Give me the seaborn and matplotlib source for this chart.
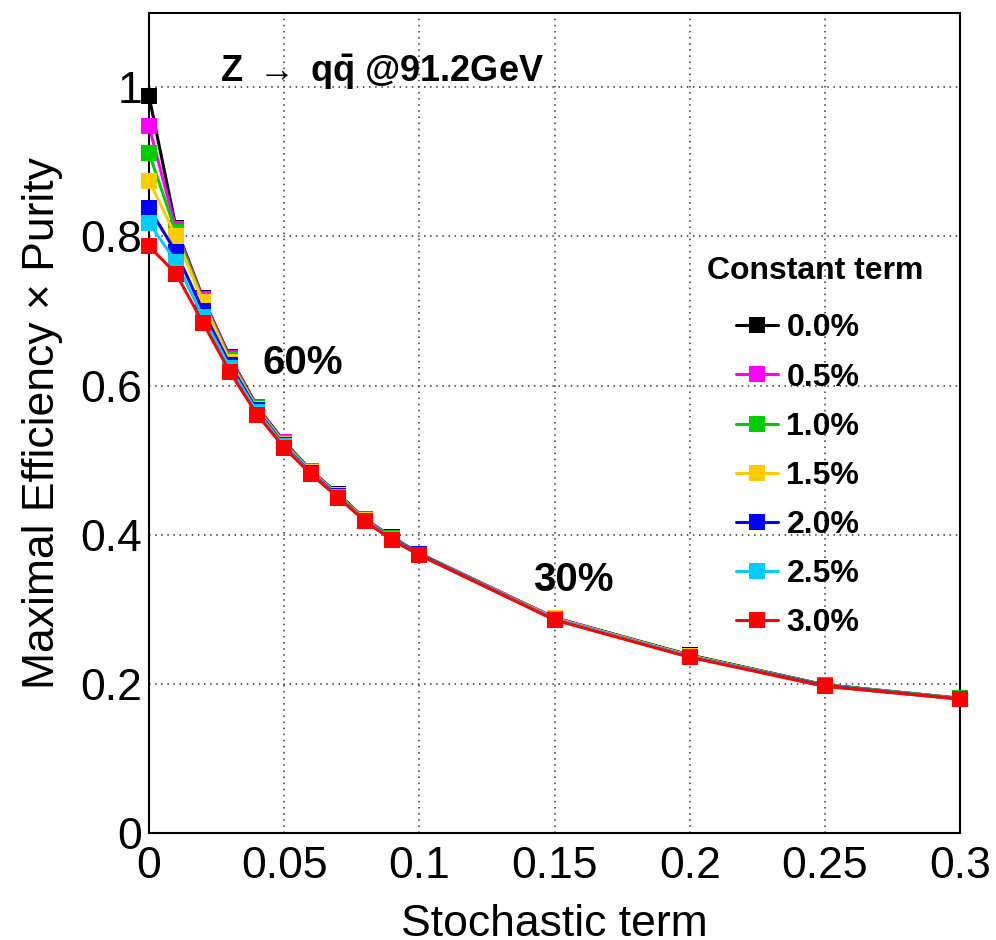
import matplotlib
matplotlib.use("Agg")
import matplotlib.pyplot as plt
from matplotlib.ticker import MultipleLocator
from matplotlib.lines import Line2D
import numpy as np
import pandas as pd
import seaborn as sns

# Stochastic term of the calorimeter resolution
stochastic = [0.0, 0.01, 0.02, 0.03, 0.04, 0.05, 0.06, 0.07, 0.08, 0.09, 0.10,
              0.15, 0.20, 0.25, 0.30]

# Maximal efficiency x purity for each constant term
eff_c00 = [0.988, 0.812, 0.717, 0.638, 0.572, 0.525, 0.486, 0.455, 0.421, 0.397, 0.375, 0.289, 0.239, 0.199, 0.181]
eff_c05 = [0.948, 0.810, 0.716, 0.637, 0.571, 0.524, 0.486, 0.454, 0.421, 0.396, 0.375, 0.289, 0.238, 0.199, 0.181]
eff_c10 = [0.912, 0.806, 0.714, 0.634, 0.570, 0.523, 0.485, 0.454, 0.420, 0.396, 0.375, 0.288, 0.238, 0.199, 0.181]
eff_c15 = [0.875, 0.800, 0.712, 0.632, 0.569, 0.522, 0.484, 0.453, 0.420, 0.395, 0.374, 0.288, 0.238, 0.198, 0.180]
eff_c20 = [0.838, 0.779, 0.700, 0.628, 0.567, 0.520, 0.483, 0.452, 0.419, 0.395, 0.374, 0.287, 0.237, 0.198, 0.180]
eff_c25 = [0.818, 0.766, 0.692, 0.624, 0.565, 0.519, 0.482, 0.451, 0.419, 0.394, 0.373, 0.287, 0.237, 0.197, 0.180]
eff_c30 = [0.787, 0.750, 0.684, 0.618, 0.561, 0.517, 0.481, 0.450, 0.418, 0.393, 0.373, 0.286, 0.236, 0.197, 0.180]

constant_labels = ["0.0%", "0.5%", "1.0%", "1.5%", "2.0%", "2.5%", "3.0%"]
series = [eff_c00, eff_c05, eff_c10, eff_c15, eff_c20, eff_c25, eff_c30]
colors = ["#000000", "#ff00ff", "#00cc00", "#ffcc00", "#0000ff", "#00ccff", "#ff0000"]

df = pd.DataFrame({
    "stochastic": np.tile(stochastic, len(series)),
    "eff": np.concatenate(series),
    "constant": np.repeat(constant_labels, len(stochastic)),
})

sns.set_style("white")
plt.rcParams["font.family"] = ["Liberation Sans", "DejaVu Sans"]
plt.rcParams["mathtext.fontset"] = "custom"
plt.rcParams["mathtext.rm"] = "Liberation Sans"
plt.rcParams["mathtext.bf"] = "Liberation Sans:bold"
plt.rcParams["mathtext.it"] = "Liberation Sans:italic"
for key in ["text.color", "axes.labelcolor", "xtick.color", "ytick.color"]:
    plt.rcParams[key] = "black"

fig = plt.figure(figsize=(9.96, 9.40), dpi=100)
ax = fig.add_axes([0.1496, 0.1135, 0.8143, 0.8730])

sns.lineplot(data=df, x="stochastic", y="eff", hue="constant",
             hue_order=constant_labels, palette=colors, marker="s",
             markersize=11.5, markeredgewidth=0, linewidth=2.2,
             legend=False, ax=ax, clip_on=False, zorder=3)

ax.set_xlim(0, 0.3)
ax.set_ylim(0, 1.1)
ax.xaxis.set_major_locator(MultipleLocator(0.05))
ax.xaxis.set_minor_locator(MultipleLocator(0.01))
ax.yaxis.set_major_locator(MultipleLocator(0.2))
ax.yaxis.set_minor_locator(MultipleLocator(0.05))
ax.set_xticks([0, 0.05, 0.1, 0.15, 0.2, 0.25, 0.3])
ax.set_xticklabels(["0", "0.05", "0.1", "0.15", "0.2", "0.25", "0.3"])
ax.set_yticks([0, 0.2, 0.4, 0.6, 0.8, 1.0])
ax.set_yticklabels(["0", "0.2", "0.4", "0.6", "0.8", "1"])

ax.tick_params(which="both", direction="in", top=False, right=False,
               labelsize=32, width=1.2, color="black", labelcolor="black")
ax.tick_params(which="major", length=17)
ax.tick_params(which="minor", length=9)
ax.tick_params(axis="x", which="major", pad=9)
ax.tick_params(axis="y", which="major", pad=5)

for sp in ax.spines.values():
    sp.set_visible(True)
    sp.set_color("black")
    sp.set_linewidth(1.5)

ax.grid(True, which="major", linestyle=(0, (1, 3)), color="#333333", linewidth=1.1)
ax.set_axisbelow(True)

ax.set_xlabel("Stochastic term", fontsize=32, color="black")
ax.set_ylabel("Maximal Efficiency \u00d7 Purity", fontsize=32, color="black")
ax.xaxis.set_label_coords(0.5, -0.086)
ax.yaxis.set_label_coords(-0.106, 0.5)

ax.text(0.0263, 1.02, r"Z$\ \rightarrow\ $q$\mathbf{\bar{q}}$ @91.2GeV",
        fontsize=26, fontweight="bold", ha="left", va="center", color="black")
ax.text(0.0418, 0.630, "60%", fontsize=29, fontweight="bold", ha="left",
        va="center", color="black")
ax.text(0.142, 0.339, "30%", fontsize=29, fontweight="bold", ha="left",
        va="center", color="black")

handles = [Line2D([0], [0], color=c, marker="s", markersize=12,
                  markeredgewidth=0, linewidth=2.2) for c in colors]
leg = ax.legend(handles, constant_labels, title="Constant term",
                loc="upper left", bbox_to_anchor=(0.708, 0.709),
                frameon=False, prop={"weight": "bold", "size": 23},
                title_fontproperties={"weight": "bold", "size": 23},
                handlelength=1.3, handletextpad=0.28, labelspacing=0.6,
                borderaxespad=0)
leg._legend_box.align = "left"
leg.get_title().set_position((-29, 8))
for t in leg.get_texts():
    t.set_color("black")
leg.get_title().set_color("black")

fig.savefig("out.png", dpi=100)
